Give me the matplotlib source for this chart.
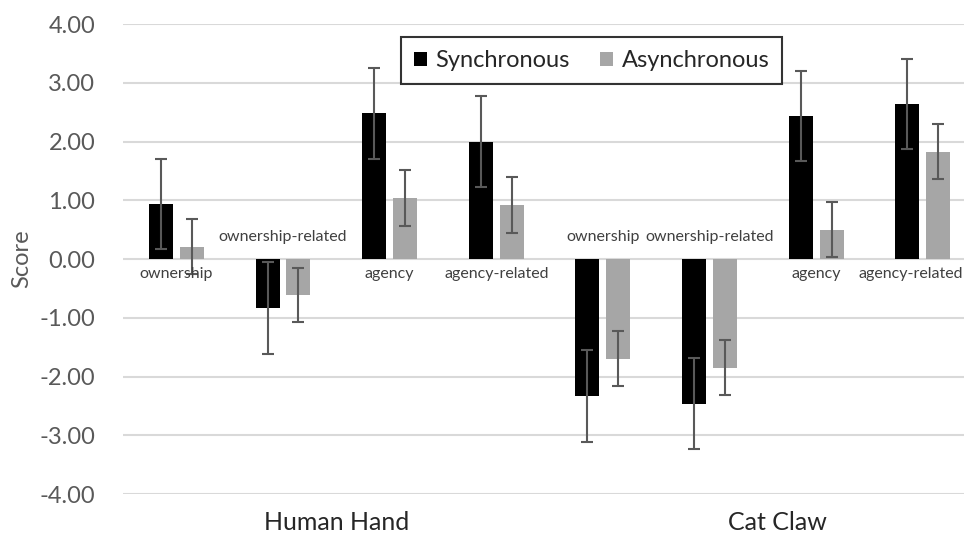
import matplotlib.pyplot as plt
import numpy as np

plt.rcParams['font.family'] = ['Lato', 'DejaVu Sans']

# Data
categories = ['ownership', 'ownership-related', 'agency', 'agency-related',
              'ownership', 'ownership-related', 'agency', 'agency-related']
groups = ['Human Hand', 'Cat Claw']
sync_vals = [0.94, -0.83, 2.48, 2.00, -2.33, -2.46, 2.43, 2.64]
sync_err = [0.77, 0.78, 0.77, 0.77, 0.78, 0.77, 0.77, 0.77]
async_vals = [0.21, -0.61, 1.04, 0.92, -1.70, -1.85, 0.50, 1.83]
async_err = [0.47, 0.46, 0.47, 0.47, 0.47, 0.47, 0.47, 0.47]
yticks = [-4, -3, -2, -1, 0, 1, 2, 3, 4]

fig = plt.figure(figsize=(9.64, 5.34), dpi=100)
ax = fig.add_axes([0.1276, 0.0749, 0.885, 0.8801])

x = np.arange(len(categories))
w = 0.225
off = 0.145
err_kw = dict(ecolor='#595959', elinewidth=1.5, capsize=4, capthick=1.5)
ax.bar(x - off, sync_vals, w, color='black', yerr=sync_err,
       error_kw=err_kw, label='Synchronous', zorder=2)
ax.bar(x + off, async_vals, w, color='#a6a6a6', yerr=async_err,
       error_kw=err_kw, label='Asynchronous', zorder=2)

ax.set_xlim(-0.5, len(categories) - 0.5)
ax.set_ylim(-4, 4)
ax.set_yticks(yticks)
ax.set_yticklabels(['%.2f' % t for t in yticks])
ax.tick_params(axis='y', length=0, pad=20, labelsize=17, labelcolor='#595959')
ax.set_xticks([])
ax.grid(axis='y', color='#d9d9d9', linewidth=1.5, zorder=0)
ax.set_axisbelow(True)
for s in ax.spines.values():
    s.set_visible(False)

ax.set_ylabel('Score', fontsize=17, color='#595959')
ax.yaxis.set_label_coords(-0.107, 0.5)

# category labels next to the zero line
for i, (xi, name, v) in enumerate(zip(x, categories, sync_vals)):
    dx = -9 if i == len(categories) - 1 else 0  # keep the last one inside the figure
    dy = -11 if v >= 0 else 16
    ax.annotate(name, (xi, 0), xytext=(dx, dy), textcoords='offset points',
                ha='center', va='center', fontsize=11.5, color='#404040')

# group labels under the plot
ax.text(1.5, -4.48, groups[0], ha='center', va='center', fontsize=18, color='#262626')
ax.text(5.64, -4.48, groups[1], ha='center', va='center', fontsize=18, color='#262626')

leg = ax.legend(loc='upper left', bbox_to_anchor=(0.326, 0.972), borderaxespad=0,
                ncol=2, fontsize=17, frameon=True, fancybox=False,
                edgecolor='black', handlelength=0.55, handleheight=0.55,
                handletextpad=0.35, columnspacing=1.3, borderpad=0.55)
leg.get_frame().set_linewidth(1.5)
for t in leg.get_texts():
    t.set_color('#262626')

fig.savefig('out.png', dpi=100)
